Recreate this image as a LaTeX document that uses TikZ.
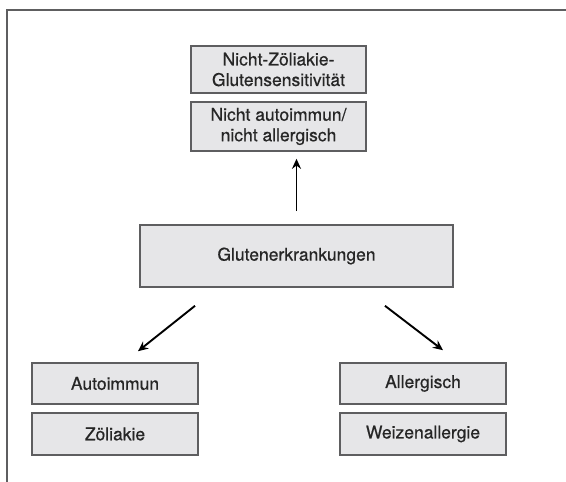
\documentclass[tikz,border=0pt]{standalone}
\usepackage{fontspec}
\setmainfont[FakeBold=0.6]{TeX Gyre Heros}
\usetikzlibrary{arrows.meta,positioning}
\definecolor{boxfill}{HTML}{E6E6E8}
\definecolor{boxline}{HTML}{5E5E60}

\begin{document}
\begin{tikzpicture}[x=1pt, y=-1pt, >={Stealth[length=10pt,width=9pt]},
  box/.style={draw=boxline, fill=boxfill, line width=1.6pt, align=center, inner sep=0pt,
    text=black!85, font=\fontsize{17.5}{20.5}\selectfont},
  link/.style={->, line width=1.9pt}]
\useasboundingbox (0,0) rectangle (566,482);
\draw[boxline, line width=1.2pt] (566,10) -- (7,10) -- (7,482);
\node[box, minimum width=175pt, minimum height=47pt] (nzgs) at (278.5,69.5) {Nicht-Zöliakie-\\Glutensensitivität};
\node[box, minimum width=175pt, minimum height=49pt] (nana) at (278.5,126.5) {Nicht autoimmun/\\nicht allergisch};
\node[box, minimum width=313pt, minimum height=62pt] (gluten) at (296.5,256) {Glutenerkrankungen};
\node[box, minimum width=166pt, minimum height=41pt] (auto) at (115,383.5) {Autoimmun};
\node[box, minimum width=166pt, minimum height=42pt] (zoel) at (115,434) {Zöliakie};
\node[box, minimum width=166pt, minimum height=41pt] (allerg) at (423,383.5) {Allergisch};
\node[box, minimum width=166pt, minimum height=42pt] (weizen) at (423,434) {Weizenallergie};
\draw[link] ([yshift=13pt]gluten.north) -- ([yshift=-7pt]gluten.north |- nana.south);
\draw[link] ([xshift=-101.5pt,yshift=-18pt]gluten.south) -- ([xshift=23pt,yshift=11pt]auto.north);
\draw[link] ([xshift=88.5pt,yshift=-18pt]gluten.south) -- ([xshift=20pt,yshift=12pt]allerg.north);
\end{tikzpicture}
\end{document}
